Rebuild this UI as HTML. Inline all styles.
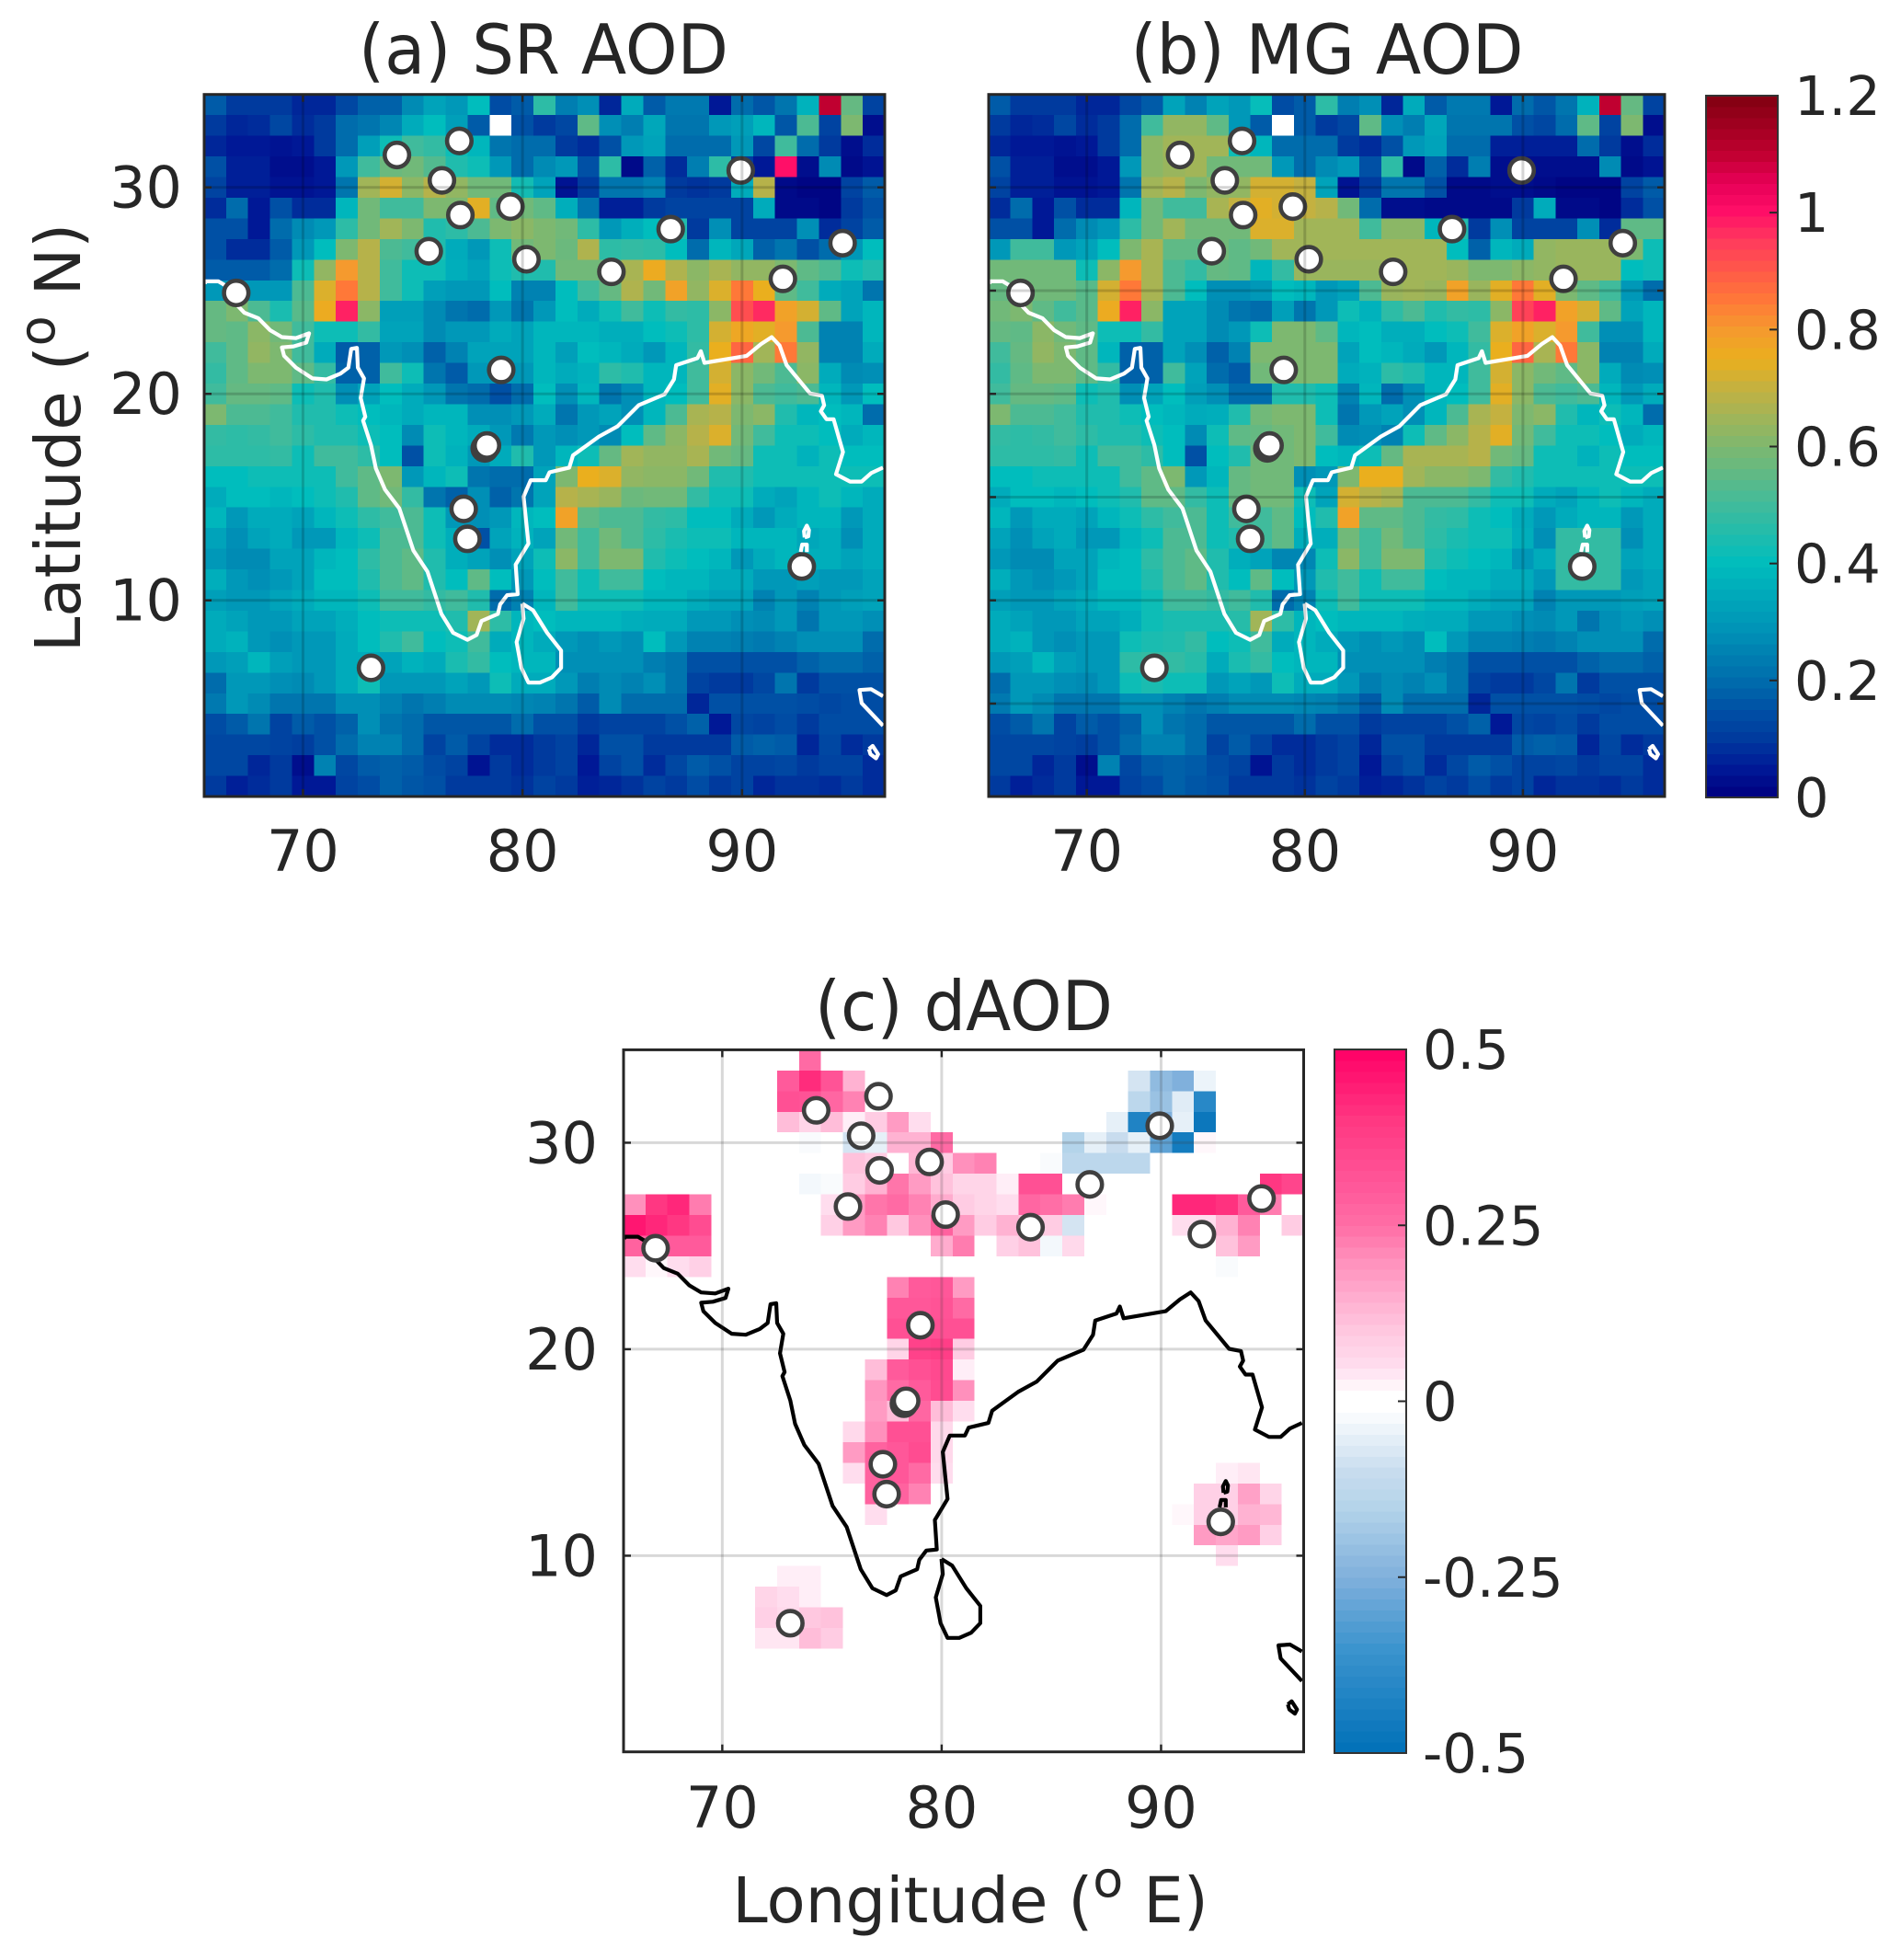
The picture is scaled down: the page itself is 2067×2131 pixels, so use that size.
<!DOCTYPE html>
<html lang="en">
<head>
<meta charset="utf-8">
<title>SR AOD, MG AOD and dAOD maps</title>
<style>
html,body{margin:0;padding:0;background:#fff;}
svg{display:block;}
text{font-family:"DejaVu Sans","Liberation Sans",sans-serif;fill:#262626;}
</style>
</head>
<body>
<svg id="fig" xmlns="http://www.w3.org/2000/svg" width="2067" height="2131" viewBox="0 0 2067 2131">
  <text x="591" y="80" font-size="75" text-anchor="middle" textLength="402" lengthAdjust="spacingAndGlyphs">(a) SR AOD</text>
  <text x="1443" y="80" font-size="75" text-anchor="middle" textLength="427" lengthAdjust="spacingAndGlyphs">(b) MG AOD</text>
  <text x="1048" y="1120" font-size="75" text-anchor="middle" textLength="324" lengthAdjust="spacingAndGlyphs">(c) dAOD</text>
  <text transform="translate(87,476) rotate(-90)" font-size="69" text-anchor="middle">Latitude (<tspan font-size="54" dy="-28">o</tspan><tspan dy="28"> N)</tspan></text>
  <text x="1055" y="2090" font-size="69" text-anchor="middle">Longitude (<tspan font-size="54" dy="-28">o</tspan><tspan dy="28"> E)</tspan></text>
</svg>
<script>
// ---------- data ----------
const lonTicks = [70, 80, 90];
const latTicks = [30, 20, 10];
const latTicksAll = [30, 25, 20, 15, 10, 5];
const aodBarTicks = [0, 0.2, 0.4, 0.6, 0.8, 1, 1.2];
const aodBarLabels = ['0', '0.2', '0.4', '0.6', '0.8', '1', '1.2'];
const dBarTicks = [-0.5, -0.25, 0, 0.25, 0.5];
const dBarLabels = ['-0.5', '-0.25', '0', '0.25', '0.5'];

// site markers (lon, lat)
const siteLon = [66.96,74.28,77.12,76.33,77.17,79.45,75.73,80.18,84.05,86.75,89.94,94.58,91.86,79.03,78.28,78.38,77.32,77.49,73.10,92.72];
const siteLat = [24.89,31.57,32.25,30.34,28.66,29.07,26.91,26.52,25.91,27.98,30.82,27.30,25.57,21.16,17.36,17.50,14.43,12.98,6.73,11.64];

// coastline (lon, lat)
const mainCoast = [[65.53,25.34],[65.57,25.45],[66.15,25.45],[66.47,25.25],[66.96,24.34],[67.33,23.93],[67.97,23.66],[68.5,23.09],[69.04,22.75],[69.68,22.7],[70.28,22.93],[70.15,22.48],[69.57,22.3],[69.04,22.25],[69.14,21.84],[69.68,21.27],[70.43,20.75],[71.07,20.7],[71.71,20.98],[72.07,21.27],[72.2,22.18],[72.46,22.23],[72.5,21.27],[72.78,20.75],[72.63,19.8],[72.84,18.89],[72.74,18.7],[73.1,17.52],[73.32,16.39],[73.74,15.36],[74.39,14.45],[75.03,12.41],[75.67,11.39],[76.31,9.34],[76.84,8.43],[77.49,8.09],[77.91,8.32],[78.13,9.0],[78.88,9.34],[78.98,9.8],[79.3,10.25],[79.78,10.3],[79.69,11.73],[80.27,12.75],[80.05,15.02],[80.37,15.82],[81.06,15.82],[81.23,16.2],[82.13,16.43],[82.3,17.02],[83.48,17.93],[84.33,18.43],[85.29,19.45],[86.47,19.98],[86.9,20.7],[87.0,21.39],[87.97,21.73],[88.12,22.07],[88.29,21.5],[90.21,21.84],[90.86,22.41],[91.35,22.75],[91.71,22.34],[92.03,21.39],[93.1,20.02],[93.64,19.91],[93.74,19.45],[93.59,19.16],[93.85,18.77],[94.17,18.77],[94.6,17.18],[94.28,16.11],[94.92,15.75],[95.45,15.75],[95.88,16.16],[96.42,16.43]];
const sriLanka = [[79.99,9.84],[80.48,9.52],[81.12,8.43],[81.76,7.57],[81.76,6.73],[81.34,6.27],[80.8,6.02],[80.27,6.02],[79.95,6.73],[79.73,7.98],[80.05,9.11],[79.99,9.84]];
const sumatra = [[96.42,5.36],[95.88,5.7],[95.35,5.66],[95.45,5.02],[96.42,3.93]];
const smallIsle = [[95.78,2.8],[95.95,2.95],[96.2,2.55],[96.1,2.35],[95.85,2.55],[95.78,2.8]];
const andamanN = [[92.85,13.05],[92.82,13.35],[92.95,13.62],[93.05,13.4],[93.02,13.1],[92.85,13.05]];
const andamanS = [[92.67,12.34],[92.74,12.7],[92.95,12.7],[92.95,12.34]];
const coastParts = [mainCoast, sriLanka, sumatra, smallIsle, andamanN, andamanS];

// panel (a) SR AOD, rows north to south, columns west to east; null = no data
const srAod = [
[.17,.1,.1,.1,.07,.07,.13,.18,.18,.27,.33,.3,.4,.14,.17,.47,.24,.28,.07,.35,.17,.23,.23,.05,.2,.16,.22,.37,1.1,.56,.12],
[.1,.07,.08,.13,.08,.1,.2,.22,.26,.35,.4,.32,.17,null,.15,.1,.13,.55,.28,.24,.34,.22,.22,.3,.32,.38,.16,.52,.12,.6,.03],
[.07,.05,.05,.04,.05,.1,.2,.32,.42,.5,.48,.42,.38,.22,.2,.2,.1,.08,.15,.3,.33,.2,.2,.2,.3,.13,.5,.2,.1,.03,.08],
[.15,.06,.06,.03,.03,.05,.3,.5,.57,.58,.53,.45,.42,.3,.2,.27,.3,.15,.47,.02,.18,.08,.24,.47,.1,.05,1.0,.03,.27,.02,.04],
[.12,.06,.06,.04,.04,.05,.22,.65,.72,.62,.68,.63,.58,.58,.43,.33,.04,.1,.22,.22,.25,.1,.09,.1,.35,.68,.02,.01,.01,.12,.17],
[.08,.2,.05,.15,.08,.08,.38,.58,.5,.5,.6,.6,.74,.55,.58,.55,.36,.22,.06,.06,.1,.12,.12,.12,.12,.35,.02,.02,.01,.1,.15],
[.15,.15,.05,.2,.27,.3,.47,.58,.65,.6,.45,.47,.52,.6,.62,.6,.58,.47,.3,.36,.4,.45,.1,.28,.12,.12,.12,.28,.08,.12,.17],
[.15,.08,.08,.17,.3,.4,.6,.68,.52,.5,.45,.35,.3,.42,.58,.6,.57,.67,.47,.48,.47,.4,.2,.38,.34,.18,.22,.15,.2,.3,.4],
[.17,.17,.17,.2,.42,.63,.8,.68,.5,.42,.42,.36,.33,.42,.45,.45,.58,.58,.58,.66,.76,.67,.62,.66,.63,.63,.6,.55,.52,.42,.45],
[.3,.3,.3,.3,.52,.73,.85,.68,.5,.42,.32,.3,.3,.4,.25,.25,.4,.5,.56,.67,.58,.78,.63,.73,.85,.75,.55,.5,.35,.33,.22],
[.56,.6,.52,.44,.54,.76,.98,.62,.32,.32,.27,.22,.2,.3,.22,.3,.4,.35,.42,.5,.42,.48,.47,.62,.92,.97,.78,.72,.55,.33,.38],
[.56,.55,.62,.58,.5,.42,.42,.48,.33,.33,.27,.3,.3,.35,.33,.38,.38,.38,.36,.36,.4,.42,.47,.72,.77,.74,.8,.52,.25,.25,.38],
[.5,.55,.63,.6,.5,.35,.17,.18,.3,.28,.18,.25,.33,.33,.33,.38,.32,.4,.38,.35,.3,.38,.48,.75,.88,.65,.85,.63,.25,.25,.35],
[.48,.55,.6,.6,.55,.48,.18,.18,.5,.42,.22,.17,.3,.3,.3,.38,.35,.37,.47,.45,.38,.38,.5,.72,.62,.58,.52,.62,.35,.27,.28],
[.5,.56,.56,.55,.42,.45,.28,.33,.4,.35,.3,.22,.2,.15,.2,.4,.28,.38,.22,.28,.38,.4,.5,.74,.62,.52,.5,.52,.38,.3,.4],
[.6,.52,.52,.5,.45,.45,.42,.4,.38,.35,.38,.38,.28,.28,.3,.35,.22,.3,.33,.28,.38,.52,.66,.68,.6,.62,.45,.38,.4,.38,.2],
[.48,.47,.48,.5,.47,.45,.45,.42,.4,.27,.42,.38,.35,.3,.23,.3,.28,.3,.27,.4,.55,.62,.68,.73,.58,.5,.42,.42,.4,.35,.38],
[.47,.47,.47,.48,.42,.5,.5,.47,.4,.15,.42,.37,.3,.35,.45,.3,.38,.42,.56,.65,.63,.63,.66,.58,.56,.42,.42,.37,.42,.4,.4],
[.4,.4,.42,.42,.42,.42,.5,.55,.6,.3,.38,.42,.22,.2,.2,.33,.6,.75,.73,.63,.62,.62,.58,.45,.45,.42,.42,.42,.42,.42,.42],
[.35,.4,.4,.38,.4,.42,.45,.55,.58,.48,.22,.18,.28,.18,.22,.33,.68,.66,.64,.57,.58,.58,.48,.42,.42,.35,.33,.38,.42,.38,.35],
[.38,.3,.35,.35,.33,.38,.42,.47,.5,.52,.42,.3,.28,.3,.38,.4,.78,.55,.52,.52,.48,.47,.4,.4,.35,.3,.35,.38,.38,.3,.35],
[.33,.28,.33,.35,.3,.3,.38,.42,.52,.52,.42,.36,.15,.33,.37,.33,.58,.5,.58,.52,.47,.44,.42,.42,.38,.38,.38,.34,.36,.28,.35],
[.3,.27,.27,.33,.33,.38,.4,.47,.52,.55,.45,.36,.33,.28,.33,.42,.62,.5,.6,.6,.45,.42,.4,.38,.3,.35,.38,.36,.36,.33,.35],
[.36,.3,.28,.3,.33,.4,.4,.45,.52,.55,.45,.4,.55,.4,.3,.4,.5,.42,.5,.5,.4,.38,.38,.35,.35,.3,.3,.32,.3,.3,.33],
[.32,.3,.3,.33,.35,.38,.38,.42,.5,.5,.48,.5,.45,.2,.25,.38,.5,.42,.42,.42,.38,.38,.35,.33,.33,.25,.3,.25,.3,.32,.33],
[.35,.33,.3,.3,.33,.33,.36,.4,.42,.42,.42,.45,.65,.47,.38,.4,.38,.38,.38,.36,.35,.35,.3,.3,.28,.27,.3,.22,.3,.3,.28],
[.35,.37,.3,.28,.3,.3,.35,.4,.45,.5,.4,.42,.5,.35,.38,.35,.3,.28,.3,.28,.4,.3,.25,.25,.24,.23,.25,.28,.28,.28,.2],
[.3,.32,.38,.32,.3,.3,.35,.35,.33,.37,.35,.44,.48,.4,.38,.38,.28,.28,.28,.28,.24,.22,.15,.15,.15,.15,.15,.18,.2,.2,.18],
[.2,.3,.3,.28,.27,.3,.35,.42,.3,.3,.3,.33,.3,.42,.35,.35,.3,.24,.27,.25,.28,.22,.12,.1,.1,.13,.22,.1,.15,.15,.15],
[.23,.3,.27,.22,.22,.22,.28,.28,.25,.22,.24,.27,.27,.27,.26,.25,.22,.17,.27,.2,.2,.2,.07,.15,.15,.15,.15,.14,.13,.14,.14],
[.14,.17,.22,.12,.17,.15,.18,.28,.22,.2,.16,.16,.16,.16,.2,.15,.15,.1,.12,.12,.12,.15,.18,.05,.13,.12,.14,.1,.14,.14,.14],
[.13,.13,.13,.12,.11,.15,.2,.25,.25,.2,.12,.17,.12,.08,.08,.1,.12,.07,.15,.15,.1,.1,.1,.1,.17,.18,.17,.07,.13,.08,.1],
[.13,.13,.07,.1,.03,.25,.13,.17,.18,.17,.14,.12,.04,.1,.08,.1,.12,.05,.12,.15,.08,.13,.17,.15,.12,.12,.13,.1,.12,.12,.08],
[.1,.06,.08,.1,.05,.05,.12,.14,.18,.16,.15,.1,.1,.1,.09,.12,.1,.06,.07,.09,.12,.1,.14,.1,.12,.07,.09,.09,.08,.1,.08]
];

// panel (b) MG AOD
const mgAod = [
[.17,.1,.1,.1,.07,.07,.13,.17,.33,.25,.33,.3,.41,.14,.17,.47,.24,.28,.07,.35,.17,.23,.23,.05,.2,.16,.22,.37,1.1,.56,.12],
[.1,.07,.08,.13,.08,.1,.2,.5,.63,.63,.55,.3,.17,null,.17,.1,.13,.55,.28,.24,.34,.22,.22,.22,.15,.13,.2,.55,.12,.6,.03],
[.07,.05,.05,.04,.05,.1,.2,.62,.65,.65,.65,.42,.38,.2,.2,.2,.1,.08,.15,.3,.33,.2,.2,.06,.06,.06,.06,.2,.1,.03,.08],
[.15,.06,.06,.03,.03,.05,.3,.62,.64,.65,.58,.58,.58,.3,.2,.27,.3,.15,.47,.02,.18,.08,.24,.03,.03,.03,.03,.03,.27,.02,.04],
[.12,.06,.06,.04,.04,.05,.22,.65,.68,.6,.63,.63,.72,.72,.7,.33,.04,.1,.22,.22,.15,.02,.02,.03,.03,.02,.01,.01,.01,.12,.17],
[.08,.2,.05,.15,.08,.08,.38,.58,.5,.5,.66,.7,.74,.72,.7,.68,.58,.2,.03,.03,.02,.02,.02,.02,.1,.35,.02,.02,.01,.08,.15],
[.15,.15,.05,.2,.27,.3,.47,.58,.65,.58,.58,.58,.73,.73,.65,.65,.65,.5,.62,.62,.38,.45,.1,.28,.12,.12,.12,.28,.08,.55,.55],
[.3,.5,.5,.3,.33,.4,.6,.66,.55,.55,.58,.55,.58,.65,.65,.65,.65,.65,.65,.65,.65,.4,.18,.38,.35,.63,.64,.64,.64,.6,.42],
[.58,.58,.58,.58,.42,.62,.8,.66,.52,.48,.56,.55,.38,.48,.64,.64,.64,.64,.65,.65,.65,.64,.6,.6,.62,.63,.64,.64,.64,.4,.42],
[.56,.58,.58,.58,.54,.72,.85,.66,.52,.4,.28,.28,.3,.4,.38,.3,.33,.52,.64,.65,.64,.78,.64,.74,.85,.74,.6,.55,.5,.3,.2],
[.58,.6,.55,.5,.54,.76,.98,.62,.33,.33,.27,.22,.2,.32,.22,.3,.42,.37,.47,.52,.45,.48,.47,.62,.94,.98,.78,.72,.55,.33,.38],
[.56,.55,.62,.58,.55,.42,.42,.48,.33,.33,.27,.3,.42,.6,.6,.55,.38,.4,.36,.36,.4,.42,.5,.73,.78,.73,.8,.5,.28,.28,.38],
[.5,.56,.63,.6,.55,.38,.18,.18,.33,.28,.18,.25,.6,.6,.6,.6,.33,.4,.38,.35,.3,.38,.48,.75,.88,.66,.85,.62,.25,.25,.35],
[.48,.55,.6,.6,.55,.48,.18,.18,.5,.33,.2,.17,.58,.58,.6,.6,.35,.37,.47,.45,.38,.38,.5,.72,.62,.58,.55,.62,.35,.27,.28],
[.5,.56,.56,.55,.42,.45,.28,.33,.4,.32,.28,.2,.2,.45,.45,.42,.25,.38,.2,.28,.38,.4,.5,.74,.62,.52,.5,.52,.38,.3,.35],
[.6,.52,.52,.5,.45,.45,.42,.4,.38,.35,.36,.45,.58,.6,.6,.42,.22,.3,.33,.28,.38,.52,.66,.7,.6,.62,.45,.38,.42,.38,.2],
[.48,.47,.48,.5,.47,.45,.45,.42,.4,.27,.42,.55,.56,.58,.6,.5,.27,.28,.25,.42,.55,.62,.68,.74,.58,.5,.42,.42,.4,.35,.38],
[.47,.47,.47,.48,.42,.5,.5,.47,.4,.15,.4,.45,.58,.58,.6,.4,.38,.42,.56,.66,.66,.66,.68,.58,.56,.42,.42,.37,.42,.4,.4],
[.4,.4,.42,.42,.42,.42,.5,.55,.6,.3,.38,.56,.58,.58,.28,.3,.6,.75,.75,.65,.62,.62,.6,.48,.45,.42,.42,.42,.42,.42,.42],
[.35,.4,.4,.38,.4,.42,.45,.55,.55,.48,.42,.56,.58,.58,.42,.33,.72,.68,.66,.52,.52,.52,.48,.42,.42,.35,.33,.38,.42,.38,.35],
[.38,.3,.35,.35,.33,.38,.42,.47,.5,.52,.42,.5,.5,.55,.4,.45,.78,.55,.55,.52,.48,.47,.42,.4,.35,.3,.35,.38,.38,.3,.35],
[.33,.28,.33,.35,.3,.3,.38,.42,.52,.52,.42,.45,.5,.55,.36,.36,.58,.5,.58,.52,.47,.44,.42,.42,.36,.28,.48,.48,.48,.28,.35],
[.3,.27,.27,.33,.33,.38,.4,.47,.52,.55,.45,.36,.33,.26,.26,.42,.62,.5,.6,.6,.45,.42,.4,.38,.3,.35,.48,.48,.48,.33,.35],
[.36,.3,.28,.3,.33,.4,.4,.45,.52,.55,.45,.4,.55,.4,.3,.45,.5,.42,.5,.5,.4,.38,.38,.35,.35,.3,.48,.48,.48,.3,.33],
[.32,.3,.3,.33,.35,.38,.38,.42,.5,.5,.48,.5,.45,.2,.25,.42,.5,.42,.42,.42,.38,.38,.35,.33,.33,.25,.3,.3,.3,.32,.33],
[.35,.33,.3,.3,.33,.33,.36,.42,.44,.44,.44,.46,.65,.47,.38,.4,.38,.38,.38,.36,.35,.35,.3,.3,.28,.27,.3,.22,.28,.3,.28],
[.35,.37,.3,.28,.3,.3,.42,.44,.45,.48,.4,.42,.5,.35,.38,.35,.3,.28,.3,.28,.4,.3,.25,.25,.24,.23,.25,.28,.28,.28,.2],
[.3,.32,.38,.32,.3,.3,.47,.48,.48,.46,.35,.44,.48,.4,.38,.38,.28,.28,.28,.28,.24,.22,.15,.15,.15,.15,.15,.18,.2,.2,.18],
[.2,.3,.3,.28,.27,.3,.42,.44,.42,.42,.3,.33,.3,.42,.35,.35,.3,.24,.27,.25,.28,.22,.12,.1,.1,.13,.22,.1,.15,.15,.15],
[.23,.3,.27,.22,.22,.22,.28,.28,.25,.22,.24,.27,.27,.27,.26,.25,.22,.17,.27,.2,.2,.2,.07,.15,.15,.15,.15,.14,.13,.14,.14],
[.14,.17,.22,.12,.17,.15,.18,.28,.22,.2,.16,.16,.16,.16,.2,.15,.15,.1,.12,.12,.12,.15,.18,.05,.13,.12,.14,.1,.14,.14,.14],
[.13,.13,.13,.12,.11,.15,.2,.25,.25,.2,.12,.17,.12,.08,.08,.1,.12,.07,.15,.15,.1,.1,.1,.1,.17,.18,.17,.07,.13,.08,.1],
[.13,.13,.07,.1,.03,.25,.13,.17,.18,.17,.14,.12,.04,.1,.08,.1,.12,.05,.12,.15,.08,.13,.17,.15,.12,.12,.13,.1,.12,.12,.08],
[.1,.06,.08,.1,.05,.05,.12,.14,.18,.16,.15,.1,.1,.1,.09,.12,.1,.06,.07,.09,.12,.1,.14,.1,.12,.07,.09,.09,.08,.1,.08]
];

// panel (c) dAOD: one object per row, column index -> value; unlisted cells are blank
const dAod = [
{8:.26},
{7:.3,8:.42,9:.32,10:.14,23:-.08,24:-.22,25:-.25,26:-.04},
{7:.33,8:.32,9:.27,10:.22,23:-.13,24:-.2,25:-.06,26:-.4},
{7:.12,8:.07,9:.12,10:.03,11:.09,12:.18,13:.05,22:-.05,23:-.42,24:-.25,25:-.05,26:-.47},
{8:-.02,10:-.08,11:-.05,12:.14,13:.14,14:.26,20:-.15,21:-.05,22:-.1,23:-.05,24:-.3,25:-.45,26:.02},
{10:.11,11:.09,13:.13,14:.09,15:.2,16:.22,19:-.02,20:-.13,21:-.13,22:-.13,23:-.13},
{8:-.03,9:-.02,10:.09,11:.14,12:.24,13:.18,14:.11,15:.07,16:.07,17:.03,18:.33,19:.33,29:.4,30:.36},
{0:.2,1:.4,2:.43,3:.23,9:.05,10:.18,11:.24,12:.26,13:.22,14:.15,15:.09,16:.07,17:.05,18:.27,19:.25,20:.23,21:.02,25:.43,26:.43,27:.41,28:.3,29:.23},
{0:.46,1:.43,2:.4,3:.34,9:.08,10:.18,11:.22,12:.1,13:.2,14:.28,15:.18,16:.09,17:.14,18:.11,19:.09,20:-.08,25:.05,26:.05,27:.14,28:.22,30:.09},
{0:.28,1:.3,2:.3,3:.3,14:.15,15:.23,17:.08,18:.11,19:-.03,20:.06,27:.11,28:.18},
{0:.05,1:.02,2:.05,3:.08,27:-.02},
{12:.22,13:.3,14:.31,15:.18},
{12:.31,13:.31,14:.32,15:.26},
{12:.33,13:.33,14:.33,15:.33},
{12:.07,13:.37,14:.38,15:.09},
{11:.12,12:.3,13:.33,14:.35,15:.03},
{11:.19,12:.26,13:.3,14:.34,15:.2},
{11:.18,12:.12,13:.27,14:.12,15:.05},
{10:.06,11:.2,12:.33,13:.33,14:.06},
{10:.18,11:.28,12:.31,13:.34,14:.06},
{10:.05,11:.28,12:.31,13:.26,14:.05,27:.03,28:.04},
{11:.28,12:.28,13:.22,26:.08,27:.08,28:.17,29:.07},
{11:.05,25:.02,26:.08,27:.08,28:.14,29:.13},
{26:.18,27:.16,28:.18,29:.08},
{27:.05},
{7:.03,8:.03},
{6:.07,7:.05,8:.03,9:-.01},
{6:.08,7:.06,8:.1,9:.11},
{6:.04,7:.04,8:.12,9:.09},
{},{},{},{},{}
];

// colour maps: value, r, g, b
const aodStopValues = [0,.05,.1,.15,.2,.3,.4,.5,.6,.7,.75,.8,.85,.9,.95,1,1.05,1.1,1.2];
const aodStopColors = [[0,0,128],[0,24,150],[0,58,158],[0,80,165],[0,108,172],[0,152,184],[0,189,189],[64,187,156],[125,184,112],[196,177,64],[234,175,30],[245,154,46],[255,120,56],[255,90,72],[255,60,92],[255,15,104],[232,0,88],[192,0,48],[128,0,16]];
const dStopValues = [-.5,-.35,-.25,-.15,-.1,-.05,-.01,.01,.05,.1,.2,.25,.3,.4,.5];
const dStopColors = [[0,112,184],[60,148,206],[128,176,220],[180,212,234],[200,220,238],[230,240,248],[255,255,255],[255,255,255],[255,221,238],[255,200,224],[255,144,188],[255,110,166],[255,90,155],[255,55,130],[255,0,102]];

// ---------- layout ----------
const LON_MIN = 65.5, LON_MAX = 96.5, LAT_MAX = 34.5, LAT_MIN = 0.5;
const panelA = {x0:222, x1:962, y0:102.7, y1:866};
const panelB = {x0:1075, x1:1810, y0:102.7, y1:866};
const panelC = {x0:678, x1:1417.5, y0:1141.4, y1:1904.7};
const NS = 'http://www.w3.org/2000/svg';
const svg = document.getElementById('fig');

function xScale(p, lon){ return p.x0 + (lon - LON_MIN) / (LON_MAX - LON_MIN) * (p.x1 - p.x0); }
function yScale(p, lat){ return p.y0 + (LAT_MAX - lat) / (LAT_MAX - LAT_MIN) * (p.y1 - p.y0); }
function shape(tag, geometry, parent){
  const node = document.createElementNS(NS, tag);
  for (const k in geometry) node.setAttribute(k, geometry[k]);
  parent.appendChild(node);
  return node;
}
function colorAt(v, values, colors){
  if (v <= values[0]) return 'rgb(' + colors[0].join(',') + ')';
  for (let i = 1; i < values.length; i++){
    if (v <= values[i]){
      const t = (v - values[i-1]) / (values[i] - values[i-1]);
      const c = colors[i-1].map((a, j) => Math.round(a + (colors[i][j] - a) * t));
      return 'rgb(' + c.join(',') + ')';
    }
  }
  return 'rgb(' + colors[colors.length-1].join(',') + ')';
}
function drawCell(g, p, row, col, color){
  const x0 = xScale(p, LON_MIN + col), x1 = xScale(p, LON_MIN + col + 1);
  const y0 = yScale(p, LAT_MAX - row), y1 = yScale(p, LAT_MAX - row - 1);
  const cell = shape('rect', {x:x0, y:y0, width:x1-x0, height:y1-y0, fill:color, 'shape-rendering':'crispEdges'}, g);
  
  
}
function drawCoast(g, p, color){
  coastParts.forEach(part => {
    const pts = part.map(q => xScale(p, q[0]).toFixed(1) + ',' + yScale(p, q[1]).toFixed(1)).join(' ');
    const line = shape('polyline', {points:pts, fill:'none', stroke:color, 'stroke-width':4.2, 'stroke-linejoin':'round'}, g);
    
    
  });
}
function drawSites(g, p){
  siteLon.forEach((lon, i) => {
    const dot = shape('circle', {cx:xScale(p, lon), cy:yScale(p, siteLat[i]), r:13.3, fill:'#fff', stroke:'#3f3f3f', 'stroke-width':4.6}, g);
    
    
  });
}
function drawGrid(g, p, lats, color){
  lonTicks.forEach(lon => {
    const x = xScale(p, lon);
    const line = shape('line', {x1:x, x2:x, y1:p.y0, y2:p.y1, stroke:color, 'stroke-width':3}, g);
    
    
  });
  lats.forEach(lat => {
    const y = yScale(p, lat);
    const line = shape('line', {x1:p.x0, x2:p.x1, y1:y, y2:y, stroke:color, 'stroke-width':3}, g);
    
    
  });
}
function drawFrame(g, p, lats){
  lonTicks.forEach(lon => {
    const x = xScale(p, lon);
    [[p.y0, p.y0 + 8], [p.y1, p.y1 - 8]].forEach(s => {
      const t = shape('line', {x1:x, x2:x, y1:s[0], y2:s[1], stroke:'#262626', 'stroke-width':2.4}, g);
      
      
    });
  });
  lats.forEach(lat => {
    const y = yScale(p, lat);
    [[p.x0, p.x0 + 8], [p.x1, p.x1 - 8]].forEach(s => {
      const t = shape('line', {x1:s[0], x2:s[1], y1:y, y2:y, stroke:'#262626', 'stroke-width':2.4}, g);
      
      
    });
  });
  const frame = shape('rect', {x:p.x0, y:p.y0, width:p.x1-p.x0, height:p.y1-p.y0, fill:'none', stroke:'#262626', 'stroke-width':3}, g);
  
  
}
function drawXLabels(g, p, baseline){
  lonTicks.forEach(lon => {
    const t = shape('text', {x:xScale(p, lon), y:baseline, 'font-size':62, 'text-anchor':'middle'}, g);
    t.textContent = String(lon);
    
    
  });
}
function drawYLabels(g, p, right){
  latTicks.forEach(lat => {
    const t = shape('text', {x:right, y:yScale(p, lat) + 22, 'font-size':62, 'text-anchor':'end'}, g);
    t.textContent = String(lat);
    
    
  });
}
function drawColorbar(name, box, vMin, vMax, ticks, labels, values, colors){
  const g = shape('g', {}, svg);
  
  
  const levels = 64;
  const yOf = v => box.y1 - (v - vMin) / (vMax - vMin) * (box.y1 - box.y0);
  for (let i = 0; i < levels; i++){
    const lo = vMin + (vMax - vMin) * i / levels;
    const hi = vMin + (vMax - vMin) * (i + 1) / levels;
    const band = shape('rect', {x:box.x0, y:yOf(hi), width:box.x1-box.x0, height:yOf(lo)-yOf(hi)+0.5, fill:colorAt((lo+hi)/2, values, colors), 'shape-rendering':'crispEdges'}, g);
    
    
  }
  ticks.forEach((v, i) => {
    const y = yOf(v);
    if (i > 0 && i < ticks.length - 1){
      const tick = shape('line', {x1:box.x1 - 9, x2:box.x1, y1:y, y2:y, stroke:'#262626', 'stroke-width':2}, g);
      
      
    }
    const lab = shape('text', {x:box.x1 + 18, y:y + 21, 'font-size':59}, g);
    lab.textContent = labels[i];
    
    
  });
  const frame = shape('rect', {x:box.x0, y:box.y0, width:box.x1-box.x0, height:box.y1-box.y0, fill:'none', stroke:'#333', 'stroke-width':2}, g);
  
  
}
function drawAodPanel(name, p, matrix, lats){
  const g = shape('g', {}, svg);
  
  
  matrix.forEach((rowVals, r) => rowVals.forEach((v, c) => {
    drawCell(g, p, r, c, v === null ? '#fff' : colorAt(v, aodStopValues, aodStopColors));
  }));
  drawCoast(g, p, '#fff');
  drawSites(g, p);
  drawGrid(g, p, lats, 'rgba(0,0,0,0.17)');
  drawFrame(g, p, lats);
  drawXLabels(g, p, 947);
}

drawAodPanel('panel-sr-aod', panelA, srAod, latTicks);
drawYLabels(svg, panelA, 198);
drawAodPanel('panel-mg-aod', panelB, mgAod, latTicksAll);
drawColorbar('aod-colorbar', {x0:1855, x1:1933, y0:104, y1:867}, 0, 1.2, aodBarTicks, aodBarLabels, aodStopValues, aodStopColors);

const gc = shape('g', {}, svg);


dAod.forEach((rowVals, r) => {
  Object.keys(rowVals).forEach(k => {
    drawCell(gc, panelC, r, Number(k), colorAt(rowVals[k], dStopValues, dStopColors));
  });
});
drawCoast(gc, panelC, '#000');
drawSites(gc, panelC);
drawGrid(gc, panelC, latTicks, 'rgba(60,60,60,0.2)');
drawFrame(gc, panelC, latTicks);
drawXLabels(gc, panelC, 1987);
drawYLabels(svg, panelC, 650);
drawColorbar('daod-colorbar', {x0:1451, x1:1529, y0:1141, y1:1906}, -0.5, 0.5, dBarTicks, dBarLabels, dStopValues, dStopColors);
</script>
</body>
</html>
